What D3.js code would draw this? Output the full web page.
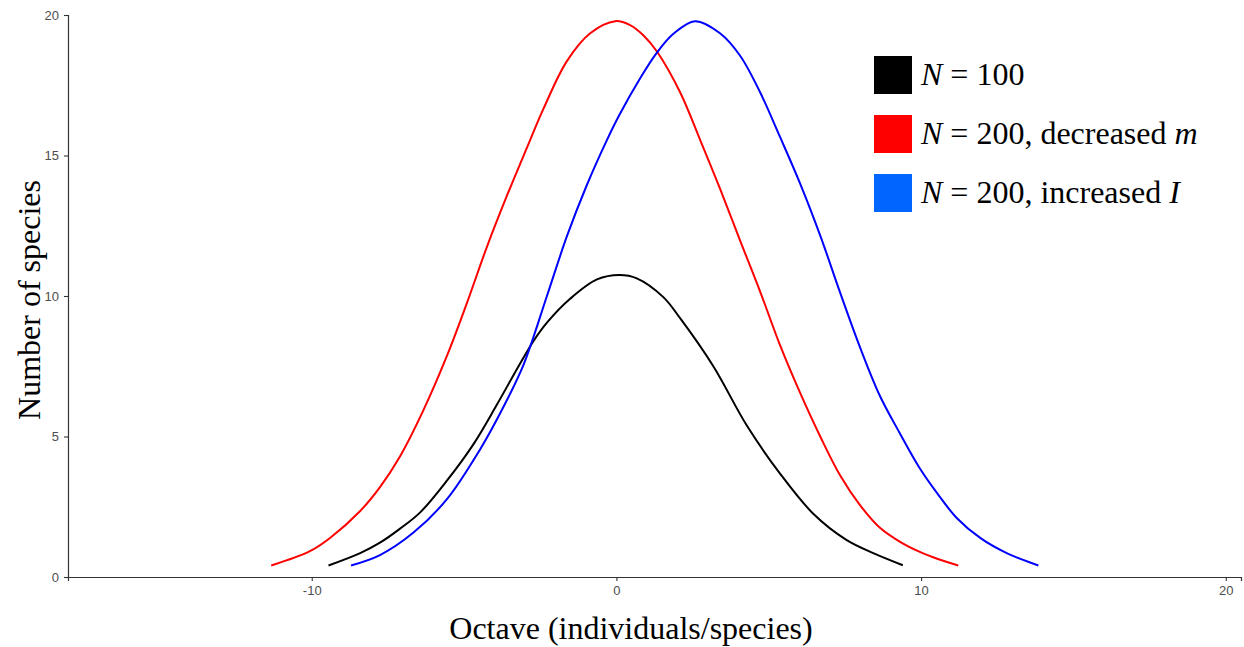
<!DOCTYPE html>
<html>
<head>
<meta charset="utf-8">
<script src="https://cdn.jsdelivr.net/npm/d3@7"></script>
<style>
  body { margin: 0; background: #fff; }
  svg { display: block; }
</style>
</head>
<body>
<div id="chart"></div>
<script>
const width = 1244;
const height = 647;

// values: octave -> number of species
const octN100 = [-9.45, -8.41, -7.76, -7.1, -6.44, -5.57, -4.69, -3.93, -3.16, -2.72, -2.28, -1.52, -0.64, 0.1, 0.67, 1.54, 2.09, 3.18, 4.28, 5.37, 6.47, 7.56, 8.43, 9.4];
const sppN100 = [0.41, 0.85, 1.22, 1.72, 2.3, 3.42, 4.73, 6.12, 7.6, 8.4, 9.05, 9.9, 10.59, 10.75, 10.63, 9.96, 9.21, 7.5, 5.39, 3.68, 2.24, 1.31, 0.85, 0.42];

const octDecM = [-11.33, -10.06, -9.4, -8.41, -7.76, -7.1, -6.33, -5.57, -4.91, -4.25, -3.6, -2.94, -2.4, -1.63, -0.86, -0.04, 0.45, 0.89, 1.33, 2.09, 2.75, 3.4, 4.06, 4.72, 5.37, 6.03, 6.69, 7.34, 8.0, 8.65, 9.31, 9.94, 10.55, 11.22];
const sppDecM = [0.41, 0.92, 1.39, 2.35, 3.2, 4.3, 5.95, 7.85, 9.74, 11.75, 13.55, 15.27, 16.65, 18.35, 19.35, 19.78, 19.64, 19.27, 18.7, 17.25, 15.55, 13.82, 11.97, 10.15, 8.25, 6.55, 5.0, 3.62, 2.55, 1.75, 1.25, 0.9, 0.64, 0.41];

const octIncI = [-8.71, -7.76, -6.66, -5.57, -4.47, -3.71, -3.05, -2.28, -1.63, -0.97, -0.32, 0.1, 0.78, 1.33, 1.87, 2.58, 3.4, 4.06, 4.72, 5.37, 6.03, 6.69, 7.34, 8.0, 8.65, 9.31, 9.94, 10.55, 11.17, 11.94, 12.81, 13.85];
const sppIncI = [0.41, 0.78, 1.58, 2.76, 4.55, 6.05, 7.55, 10.0, 12.11, 13.95, 15.53, 16.45, 17.75, 18.66, 19.33, 19.78, 19.35, 18.55, 17.24, 15.66, 14.0, 12.15, 10.13, 8.16, 6.44, 5.1, 3.9, 2.95, 2.1, 1.39, 0.85, 0.41];

const xTicks = [-10, 0, 10, 20];
const yTicks = [0, 5, 10, 15, 20];

const series = [
    { oct: octN100, spp: sppN100, line: "#000000", key: "#000000" },
    { oct: octDecM, spp: sppDecM, line: "#FF0000", key: "#FF0000" },
    { oct: octIncI, spp: sppIncI, line: "#0000FF", key: "#0066FF" }
];

const svg = d3.select("#chart").append("svg")
    .attr("width", width)
    .attr("height", height);

const x = d3.scaleLinear().domain([-18, 20.5]).range([68, 1241]);
const y = d3.scaleLinear().domain([0, 20]).range([577, 15]);

// axes
const xAxis = svg.append("g")
    .attr("transform", `translate(0, ${y(0)})`)
    .call(d3.axisBottom(x).tickValues(xTicks).tickSize(4).tickPadding(5).tickFormat(d => String(d)));
const yAxis = svg.append("g")
    .attr("transform", `translate(${x(-18)}, 0)`)
    .call(d3.axisLeft(y).tickValues(yTicks).tickSize(4).tickPadding(5).tickFormat(d => String(d)));

[xAxis, yAxis].forEach(a => {
    a.select(".domain").attr("stroke", "#333").attr("stroke-width", 1.2);
    a.selectAll(".tick line").attr("stroke", "#333").attr("stroke-width", 1.1);
    a.selectAll(".tick text")
        .attr("fill", "#4D4D4D")
        .style("font-family", "Arial, 'Liberation Sans', sans-serif")
        .style("font-size", "13px");
});

// curves
const line = d3.line()
    .x(d => x(d[0]))
    .y(d => y(d[1]))
    .curve(d3.curveCatmullRom.alpha(0.5));

svg.append("g").selectAll("path")
    .data(series)
    .join("path")
    .attr("d", s => line(s.oct.map((o, i) => [o, s.spp[i]])))
    .attr("fill", "none")
    .attr("stroke", s => s.line)
    .attr("stroke-width", 2);

// axis titles
svg.append("text")
    .attr("x", 631)
    .attr("y", 639)
    .attr("text-anchor", "middle")
    .style("font-family", "'Liberation Serif', 'Times New Roman', serif")
    .style("font-size", "32px")
    .text("Octave (individuals/species)");

svg.append("text")
    .attr("transform", "translate(40, 300) rotate(-90)")
    .attr("text-anchor", "middle")
    .style("font-family", "'Liberation Serif', 'Times New Roman', serif")
    .style("font-size", "32px")
    .text("Number of species");

// legend
const legend = svg.append("g").attr("transform", "translate(874, 56)");
const rows = legend.selectAll("g")
    .data(series)
    .join("g")
    .attr("transform", (d, i) => `translate(0, ${i * 59})`);

rows.append("rect")
    .attr("width", 38)
    .attr("height", 38)
    .attr("fill", d => d.key);

const labels = rows.append("text")
    .attr("x", 47)
    .attr("y", 29)
    .style("font-family", "'Liberation Serif', 'Times New Roman', serif")
    .style("font-size", "32px");

labels.each(function(d, i) {
    const t = d3.select(this);
    t.append("tspan").style("font-style", "italic").text("N");
    if (i === 0) {
        t.append("tspan").text(" = 100");
    } else if (i === 1) {
        t.append("tspan").text(" = 200, decreased ");
        t.append("tspan").style("font-style", "italic").text("m");
    } else {
        t.append("tspan").text(" = 200, increased ");
        t.append("tspan").style("font-style", "italic").text("I");
    }
});
</script>
</body>
</html>
